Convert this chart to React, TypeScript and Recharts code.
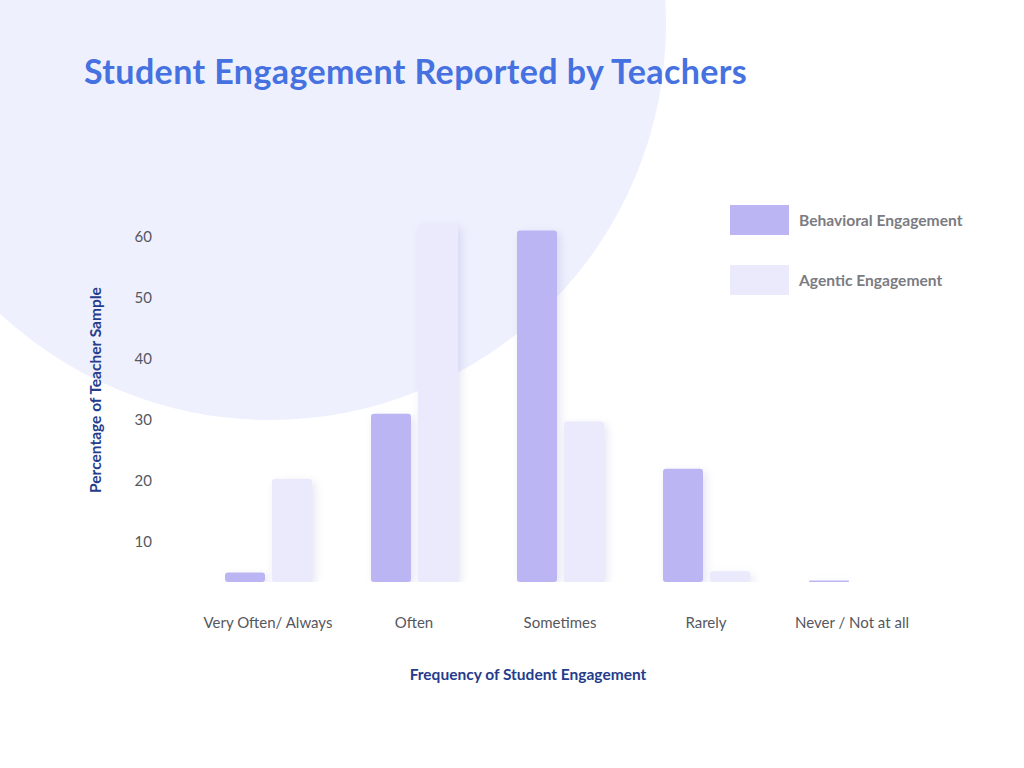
import { BarChart, Bar, XAxis, YAxis } from 'recharts';

const categories = ['Very Often/ Always', 'Often', 'Sometimes', 'Rarely', 'Never / Not at all'];
const behavioral = [5, 31, 61, 22, 3.7];
const agentic = [20.3, 62, 29.7, 5.2, 0];
const yTicks = [10, 20, 30, 40, 50, 60];

const data = categories.map((name, i) => ({
  name,
  behavioral: behavioral[i],
  agentic: agentic[i],
}));

const FONT = 'Lato, "Open Sans", sans-serif';
const BEHAVIORAL = '#BBB5F4';
const AGENTIC = '#EAEAFC';

// bars with a soft drop shadow, nothing drawn when the value sits under the baseline
const ShadowBar = (props: any) => {
  const { x, y, width, height, fill, value } = props;
  if (!value || height <= 0) return null;
  const r = Math.min(3, height / 2);
  return (
    <rect
      x={x}
      y={y}
      width={width}
      height={height}
      rx={r}
      ry={r}
      fill={fill}
      style={{ filter: 'drop-shadow(3px 3px 4px rgba(110, 105, 190, 0.18))' }}
    />
  );
};

export default function App() {
  return (
    <div
      style={{
        position: 'absolute',
        left: 0,
        top: 0,
        width: 1024,
        height: 768,
        overflow: 'hidden',
        background: '#ffffff',
        fontFamily: FONT,
      }}
    >
      <div
        style={{
          position: 'absolute',
          left: 270 - 396,
          top: 24 - 396,
          width: 792,
          height: 792,
          borderRadius: '50%',
          background: '#EEF0FD',
        }}
      />
      <div
        style={{
          position: 'absolute',
          left: 84,
          top: 50,
          fontSize: 34,
          letterSpacing: 0.4,
          fontWeight: 700,
          color: '#4571E1',
          whiteSpace: 'nowrap',
        }}
      >
        Student Engagement Reported by Teachers
      </div>

      <div style={{ position: 'absolute', left: 0, top: 0 }}>
        <BarChart
          width={1024}
          height={768}
          data={data}
          margin={{ top: 206, right: 99, bottom: 126, left: 100 }}
          barSize={40}
          barGap={7}
        >
          <XAxis
            dataKey="name"
            axisLine={false}
            tickLine={false}
            tickSize={0}
            tickMargin={35}
            height={60}
            tick={{ fill: '#55575f', fontSize: 15, fontFamily: FONT }}
            interval={0}
          />
          <YAxis
            type="number"
            domain={[3.44, 65]}
            allowDataOverflow
            ticks={yTicks}
            axisLine={false}
            tickLine={false}
            tickSize={0}
            tickMargin={43}
            width={95}
            tick={{ fill: '#55575f', fontSize: 15, fontFamily: FONT }}
          />
          <Bar dataKey="behavioral" fill={BEHAVIORAL} shape={ShadowBar} isAnimationActive={false} />
          <Bar dataKey="agentic" fill={AGENTIC} shape={ShadowBar} isAnimationActive={false} />
        </BarChart>
      </div>

      <div
        style={{
          position: 'absolute',
          left: 95 - 150,
          top: 390 - 10,
          width: 300,
          textAlign: 'center',
          transform: 'rotate(-90deg)',
          transformOrigin: '150px 10px',
          fontSize: 15.5,
          fontWeight: 700,
          color: '#253C8C',
          lineHeight: '20px',
        }}
      >
        Percentage of Teacher Sample
      </div>
      <div
        style={{
          position: 'absolute',
          left: 378,
          top: 664,
          width: 300,
          textAlign: 'center',
          fontSize: 15.5,
          fontWeight: 700,
          color: '#253C8C',
          lineHeight: '20px',
        }}
      >
        Frequency of Student Engagement
      </div>

      {[
        { label: 'Behavioral Engagement', color: BEHAVIORAL, top: 205 },
        { label: 'Agentic Engagement', color: AGENTIC, top: 265 },
      ].map((item) => (
        <div key={item.label} style={{ position: 'absolute', left: 730, top: item.top, display: 'flex', alignItems: 'center' }}>
          <div style={{ width: 59, height: 30, background: item.color }} />
          <span style={{ marginLeft: 10, fontSize: 15.6, fontWeight: 700, color: '#7b7b82' }}>{item.label}</span>
        </div>
      ))}
    </div>
  );
}
